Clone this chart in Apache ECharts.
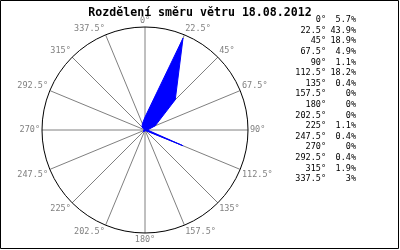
<!DOCTYPE html>
<html>
<head>
<meta charset="utf-8">
<script src="https://cdn.jsdelivr.net/npm/echarts@6/dist/echarts.min.js"></script>
<style>
html,body{margin:0;padding:0;background:#fff;}
#c{width:400px;height:250px;}
</style>
</head>
<body>
<div id="c"></div>
<script>
var titleText = 'Rozdělení směru větru 18.08.2012';
var directions = [0, 22.5, 45, 67.5, 90, 112.5, 135, 157.5, 180, 202.5, 225, 247.5, 270, 292.5, 315, 337.5];
var percents = [5.7, 43.9, 18.9, 4.9, 1.1, 18.2, 0.4, 0, 0, 0, 1.1, 0.4, 0, 0.4, 1.9, 3];

var FONT = '"DejaVu Sans Mono", "Liberation Mono", monospace';

var seriesData = directions.map(function (d, i) { return [percents[i], d]; });
seriesData.push([percents[0], 360]);

var legendItems = [];
directions.forEach(function (d, i) {
  var y = 20 + i * 10.6;
  legendItems.push({
    type: 'text', x: 326, y: y,
    style: { text: d + '°', fill: '#000', font: '8.5px ' + FONT, textAlign: 'right', textVerticalAlign: 'middle' }
  });
  legendItems.push({
    type: 'text', x: 356, y: y,
    style: { text: percents[i] + '%', fill: '#000', font: '8.5px ' + FONT, textAlign: 'right', textVerticalAlign: 'middle' }
  });
});

var chart = echarts.init(document.getElementById('c'), null, { renderer: 'canvas' });
chart.setOption({
  animation: false,
  backgroundColor: '#fff',
  title: {
    text: titleText, left: 'center', top: 2,
    textStyle: { fontFamily: FONT, fontWeight: 'bold', fontSize: 11.6, color: '#000' }
  },
  polar: { center: [145, 130], radius: 103 },
  angleAxis: {
    type: 'value', min: 0, max: 360, interval: 22.5, startAngle: 90, clockwise: true,
    axisLine: { show: true, lineStyle: { color: '#000', width: 1 } },
    axisTick: { show: false },
    splitLine: { show: true, lineStyle: { color: '#808080', width: 1 } },
    axisLabel: {
      show: true, margin: 2, color: '#808080', fontFamily: FONT, fontSize: 8.5,
      formatter: function (v) { return v >= 360 ? '' : v + '°'; }
    }
  },
  radiusAxis: {
    type: 'value', min: 0, max: 45.5,
    axisLine: { show: false }, axisTick: { show: false },
    axisLabel: { show: false }, splitLine: { show: false }
  },
  series: [{
    type: 'line', coordinateSystem: 'polar', data: seriesData,
    symbol: 'none', smooth: false,
    lineStyle: { color: '#0000ff', width: 1 },
    areaStyle: { color: '#0000ff', opacity: 1 },
    z: 5
  }],
  graphic: [
    { type: 'rect', shape: { x: 0.5, y: 0.5, width: 398, height: 248 }, style: { fill: null, stroke: '#000', lineWidth: 1 }, silent: true },
    { type: 'group', children: legendItems }
  ]
});
</script>
</body>
</html>
